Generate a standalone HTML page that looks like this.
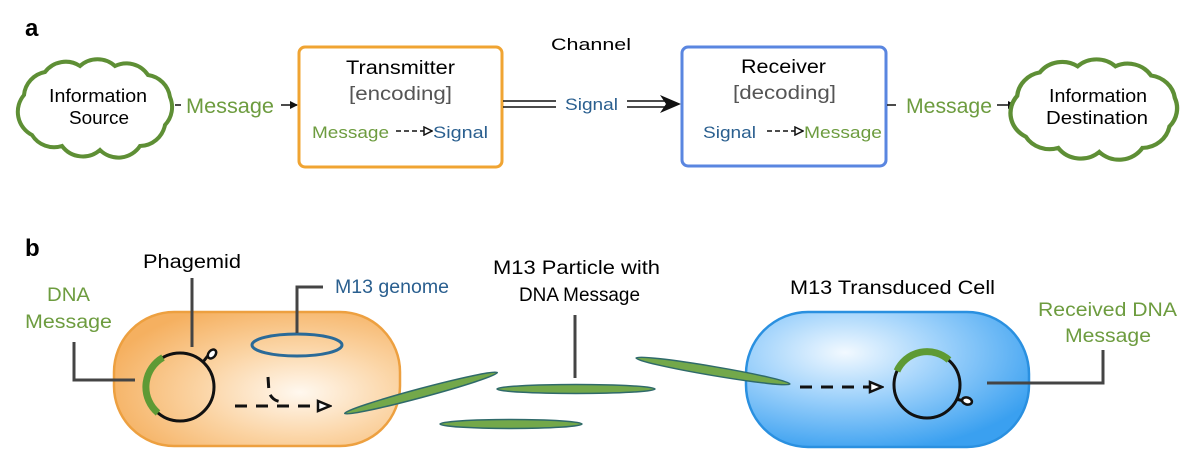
<!DOCTYPE html>
<html><head><meta charset="utf-8"><style>
html,body{margin:0;padding:0;background:#fff}
svg{display:block}
text{font-family:"Liberation Sans",sans-serif}
</style></head><body>
<svg width="1200" height="449" viewBox="0 0 1200 449" xmlns="http://www.w3.org/2000/svg">
<defs>
<marker id="ah" markerWidth="8" markerHeight="8" refX="7" refY="4" orient="auto" markerUnits="userSpaceOnUse"><path d="M0,0 L8,4 L0,8 Z" fill="#111"/></marker>
<marker id="oh" markerWidth="10" markerHeight="10" refX="9" refY="5" orient="auto" markerUnits="userSpaceOnUse"><path d="M1,1 L9,5 L1,9 Z" fill="#fff" stroke="#111" stroke-width="1.5"/></marker>
<marker id="oh2" markerWidth="16" markerHeight="14" refX="14" refY="7" orient="auto" markerUnits="userSpaceOnUse"><path d="M2,2 L14,7 L2,12 Z" fill="#fff" stroke="#111" stroke-width="2.5"/></marker>
<radialGradient id="og" cx="0.65" cy="0.6" r="0.7"><stop offset="0" stop-color="#fff8ef"/><stop offset="0.5" stop-color="#fbd4a4"/><stop offset="1" stop-color="#f5b060"/></radialGradient>
<radialGradient id="bg" cx="0.35" cy="0.3" r="0.75"><stop offset="0" stop-color="#f2f9ff"/><stop offset="0.45" stop-color="#9fd2fb"/><stop offset="1" stop-color="#3aa0f0"/></radialGradient>
<path id="cloud" d="M 24 95 A 26 26 0 0 1 45 72 A 26 26 0 0 1 80 66 A 26 26 0 0 1 115 66 A 26 26 0 0 1 148 75 A 26 26 0 0 1 170 97 A 26 26 0 0 1 165 125 A 26 26 0 0 1 140 146 A 26 26 0 0 1 100 150 A 26 26 0 0 1 62 146 A 26 26 0 0 1 32 135 A 26 26 0 0 1 24 95 Z"/>
</defs>

<!-- Panel a -->
<text x="25" y="36" font-size="24" font-weight="bold">a</text>
<use href="#cloud" fill="#fff" stroke="#5e8f35" stroke-width="4"/>
<text x="49" y="102" font-size="18" textLength="98" lengthAdjust="spacingAndGlyphs">Information</text>
<text x="69" y="124" font-size="18" textLength="60" lengthAdjust="spacingAndGlyphs">Source</text>
<line x1="175" y1="105" x2="181" y2="105" stroke="#111" stroke-width="1.5"/>
<text x="186" y="113" font-size="21" fill="#6d9c3f" textLength="88" lengthAdjust="spacingAndGlyphs">Message</text>
<line x1="281" y1="105" x2="297" y2="105" stroke="#111" stroke-width="1.5" marker-end="url(#ah)"/>

<rect x="299" y="47" width="203" height="120" rx="6" fill="#fff" stroke="#f0a432" stroke-width="3"/>
<text x="346" y="74" font-size="19" textLength="109" lengthAdjust="spacingAndGlyphs">Transmitter</text>
<text x="349" y="100" font-size="19" fill="#555" textLength="103" lengthAdjust="spacingAndGlyphs">[encoding]</text>
<text x="312" y="138" font-size="17" fill="#6d9c3f" textLength="77" lengthAdjust="spacingAndGlyphs">Message</text>
<line x1="396" y1="131" x2="432" y2="131" stroke="#111" stroke-width="1.5" stroke-dasharray="5,3" marker-end="url(#oh)"/>
<text x="433" y="138" font-size="17" fill="#2a5f8f" textLength="55" lengthAdjust="spacingAndGlyphs">Signal</text>

<text x="551" y="50" font-size="17" textLength="80" lengthAdjust="spacingAndGlyphs">Channel</text>
<line x1="503" y1="101" x2="556" y2="101" stroke="#111" stroke-width="1.5"/>
<line x1="503" y1="107" x2="556" y2="107" stroke="#111" stroke-width="1.5"/>
<text x="565" y="110" font-size="17" fill="#2a5f8f" textLength="53" lengthAdjust="spacingAndGlyphs">Signal</text>
<line x1="627" y1="101" x2="668" y2="101" stroke="#111" stroke-width="1.5"/>
<line x1="627" y1="107" x2="668" y2="107" stroke="#111" stroke-width="1.5"/>
<path d="M660,95 L681,104 L660,113 L666,104 Z" fill="#111"/>

<rect x="682" y="47" width="204" height="119" rx="6" fill="#fff" stroke="#5a86e0" stroke-width="3"/>
<text x="741" y="73" font-size="19" textLength="85" lengthAdjust="spacingAndGlyphs">Receiver</text>
<text x="733" y="99" font-size="19" fill="#555" textLength="103" lengthAdjust="spacingAndGlyphs">[decoding]</text>
<text x="703" y="138" font-size="17" fill="#2a5f8f" textLength="53" lengthAdjust="spacingAndGlyphs">Signal</text>
<line x1="767" y1="131" x2="803" y2="131" stroke="#111" stroke-width="1.5" stroke-dasharray="5,3" marker-end="url(#oh)"/>
<text x="804" y="138" font-size="17" fill="#6d9c3f" textLength="78" lengthAdjust="spacingAndGlyphs">Message</text>

<line x1="887" y1="105" x2="896" y2="105" stroke="#111" stroke-width="1.5"/>
<text x="906" y="113" font-size="21" fill="#6d9c3f" textLength="86" lengthAdjust="spacingAndGlyphs">Message</text>
<line x1="997" y1="105" x2="1015" y2="105" stroke="#111" stroke-width="1.5" marker-end="url(#ah)"/>
<g transform="translate(1015,0) scale(1.08,1.02) translate(-22,-1)">
<use href="#cloud" fill="#fff" stroke="#5e8f35" stroke-width="4"/>
</g>
<text x="1049" y="102" font-size="18" textLength="98" lengthAdjust="spacingAndGlyphs">Information</text>
<text x="1046" y="124" font-size="18" textLength="102" lengthAdjust="spacingAndGlyphs">Destination</text>

<!-- Panel b -->
<text x="25" y="256" font-size="24" font-weight="bold">b</text>

<rect x="114" y="312" width="286" height="134" rx="60" fill="url(#og)" stroke="#eda040" stroke-width="2.5"/>
<rect x="746" y="312" width="283" height="135" rx="62" fill="url(#bg)" stroke="#2a90e0" stroke-width="2.5"/>

<text x="143" y="268" font-size="19" textLength="98" lengthAdjust="spacingAndGlyphs">Phagemid</text>
<line x1="192" y1="278" x2="192" y2="347" stroke="#444" stroke-width="3"/>
<text x="47" y="301" font-size="19" fill="#6d9c3f" textLength="43" lengthAdjust="spacingAndGlyphs">DNA</text>
<text x="25" y="328" font-size="19" fill="#6d9c3f" textLength="87" lengthAdjust="spacingAndGlyphs">Message</text>
<polyline points="74,342 74,380 135,380" fill="none" stroke="#444" stroke-width="3"/>

<circle cx="180" cy="387" r="34" fill="none" stroke="#111" stroke-width="3"/>
<path d="M 163 357.5 A 34 34 0 0 0 158 413" fill="none" stroke="#5e9a35" stroke-width="7"/>
<path d="M 203 362 L 210 353" stroke="#111" stroke-width="3"/>
<ellipse cx="212" cy="354" rx="3.5" ry="5" transform="rotate(40 212 354)" fill="#fff" stroke="#111" stroke-width="2.5"/>

<ellipse cx="297" cy="345" rx="45" ry="11" fill="none" stroke="#2a6a98" stroke-width="3"/>
<polyline points="297,333 297,287 323,287" fill="none" stroke="#444" stroke-width="3"/>
<text x="335" y="293" font-size="19" fill="#2a5f8f" textLength="114" lengthAdjust="spacingAndGlyphs">M13 genome</text>

<line x1="235" y1="406" x2="330" y2="406" stroke="#111" stroke-width="3" stroke-dasharray="12,9" marker-end="url(#oh2)"/>
<path d="M 268 377 L 269 392 Q 272 401 282 402" fill="none" stroke="#111" stroke-width="3" stroke-dasharray="11,7"/>

<g fill="#73a84a" stroke="#2f6a6a" stroke-width="1.5">
<ellipse cx="421" cy="393" rx="79" ry="4.5" transform="rotate(-15 421 393)"/>
<ellipse cx="576" cy="389" rx="79" ry="4.5"/>
<ellipse cx="511" cy="424" rx="71" ry="4.5"/>
<ellipse cx="713" cy="371" rx="78" ry="4.5" transform="rotate(9.6 713 371)"/>
</g>

<text x="493" y="274" font-size="19" textLength="167" lengthAdjust="spacingAndGlyphs">M13 Particle with</text>
<text x="519" y="301" font-size="19" textLength="121" lengthAdjust="spacingAndGlyphs">DNA Message</text>
<line x1="575" y1="315" x2="575" y2="378" stroke="#444" stroke-width="3"/>

<text x="790" y="294" font-size="19" textLength="205" lengthAdjust="spacingAndGlyphs">M13 Transduced Cell</text>

<line x1="800" y1="387" x2="882" y2="387" stroke="#111" stroke-width="3" stroke-dasharray="12,9" marker-end="url(#oh2)"/>
<circle cx="927" cy="385" r="33" fill="none" stroke="#111" stroke-width="3"/>
<path d="M 897 371 A 33 33 0 0 1 949 360" fill="none" stroke="#5e9a35" stroke-width="7"/>
<path d="M 956 399 L 964 401" stroke="#111" stroke-width="3"/>
<ellipse cx="967" cy="401" rx="5" ry="3.5" transform="rotate(15 967 401)" fill="#fff" stroke="#111" stroke-width="2.5"/>
<polyline points="987,383 1103,383 1103,350" fill="none" stroke="#444" stroke-width="3"/>
<text x="1038" y="316" font-size="19" fill="#6d9c3f" textLength="139" lengthAdjust="spacingAndGlyphs">Received DNA</text>
<text x="1065" y="342" font-size="19" fill="#6d9c3f" textLength="86" lengthAdjust="spacingAndGlyphs">Message</text>
</svg>
</body></html>
